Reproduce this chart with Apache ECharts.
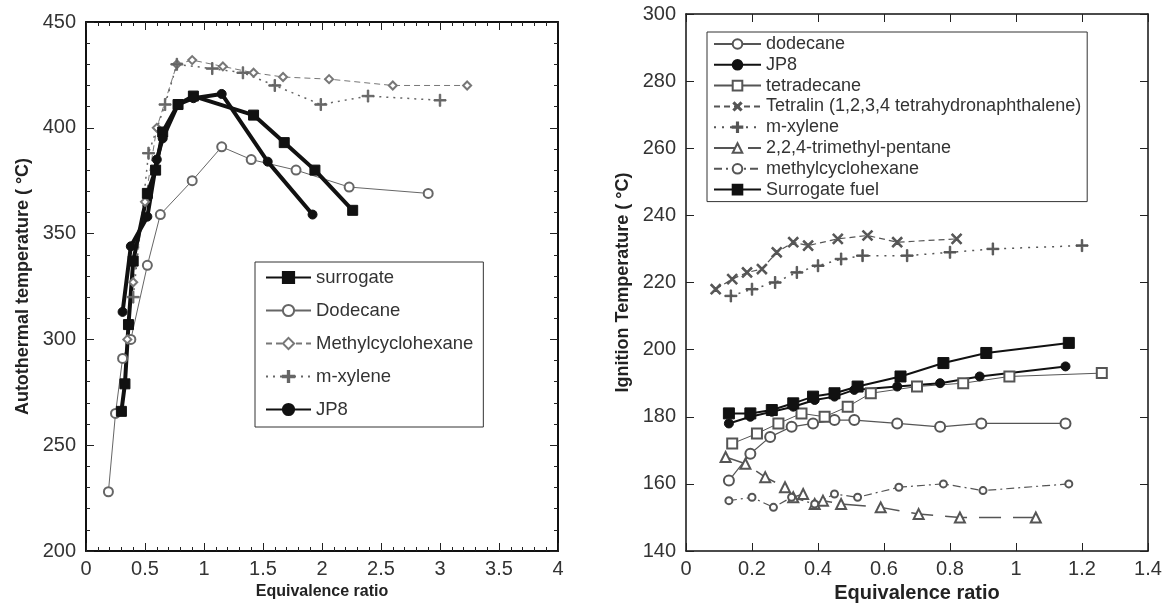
<!DOCTYPE html>
<html>
<head>
<meta charset="utf-8">
<title>Autothermal and ignition temperature</title>
<script src="https://cdn.jsdelivr.net/npm/echarts@6/dist/echarts.min.js"></script>
<style>
html, body { margin: 0; padding: 0; background: #fff; }
#main { width: 1169px; height: 610px; }
</style>
</head>
<body>
<div id="main"></div>
<script>
// ---------------- left panel data: autothermal temperature ----------------
var surrogateL = [[0.30,266],[0.33,279],[0.36,307],[0.40,337],[0.52,369],[0.59,380],[0.65,398],[0.78,411],[0.91,415],[1.42,406],[1.68,393],[1.94,380],[2.26,361]];
var dodecaneL = [[0.19,228],[0.25,265],[0.31,291],[0.38,300],[0.52,335],[0.63,359],[0.90,375],[1.15,391],[1.40,385],[1.78,380],[2.23,372],[2.90,369]];
var mchL = [[0.35,300],[0.40,327],[0.50,365],[0.60,400],[0.77,430],[0.90,432],[1.16,429],[1.42,426],[1.67,424],[2.06,423],[2.60,420],[3.23,420]];
var xyleneL = [[0.40,320],[0.53,388],[0.67,411],[0.77,430],[1.07,428],[1.33,426],[1.60,420],[1.99,411],[2.39,415],[3.00,413]];
var jp8L = [[0.31,313],[0.38,344],[0.52,358],[0.60,385],[0.65,395],[0.78,411],[0.91,414],[1.15,416],[1.54,384],[1.92,359]];

// ---------------- right panel data: ignition temperature ----------------
var dodecaneR = [[0.13,161],[0.195,169],[0.255,174],[0.32,177],[0.385,178],[0.45,179],[0.51,179],[0.64,178],[0.77,177],[0.895,178],[1.15,178]];
var jp8R = [[0.13,178],[0.195,180],[0.26,181.5],[0.325,183],[0.39,185],[0.45,186],[0.51,188],[0.64,189],[0.77,190],[0.89,192],[1.15,195]];
var tetradecaneR = [[0.14,172],[0.215,175],[0.28,178],[0.35,181],[0.42,180],[0.49,183],[0.56,187],[0.70,189],[0.84,190],[0.98,192],[1.26,193]];
var tetralinR = [[0.09,218],[0.14,221],[0.185,223],[0.23,224],[0.275,229],[0.325,232],[0.37,231],[0.46,233],[0.55,234],[0.64,232],[0.82,233]];
var xyleneR = [[0.136,216],[0.20,218],[0.27,220],[0.336,223],[0.40,225],[0.47,227],[0.535,228],[0.67,228],[0.80,229],[0.93,230],[1.20,231]];
var pentaneR = [[0.12,168],[0.18,166],[0.24,162],[0.30,159],[0.325,156],[0.355,157],[0.39,154],[0.415,155],[0.47,154],[0.59,153],[0.705,151],[0.83,150],[1.06,150]];
var mchR = [[0.13,155],[0.20,156],[0.265,153],[0.32,156],[0.39,154],[0.45,157],[0.52,156],[0.645,159],[0.78,160],[0.90,158],[1.16,160]];
var surrogateR = [[0.13,181],[0.195,181],[0.26,182],[0.325,184],[0.385,186],[0.45,187],[0.52,189],[0.65,192],[0.78,196],[0.91,199],[1.16,202]];

var legendLeft = ['surrogate', 'Dodecane', 'Methylcyclohexane', 'm-xylene', 'JP8'];
var legendRight = ['dodecane', 'r:JP8', 'tetradecane', 'Tetralin (1,2,3,4 tetrahydronaphthalene)', 'r:m-xylene', '2,2,4-trimethyl-pentane', 'methylcyclohexane', 'Surrogate fuel'];

var FONT = "'Liberation Sans', Arial, sans-serif";
// thin plus sign, rotated 45 deg it gives the x marker
var PLUS = 'path://M4.4,0h1.2v4.4h4.4v1.2h-4.4v4.4h-1.2v-4.4h-4.4v-1.2h4.4z';

// 坐标轴 (frame axes carry only ticks)
function xAx(grid, pos, min, max, step, minor, lw, showLabel, name, nameSize, gap) {
    return {
        type: 'value', gridIndex: grid, position: pos, min: min, max: max, interval: step,
        name: name || '', nameLocation: 'middle', nameGap: gap || 30,
        nameTextStyle: { fontFamily: FONT, fontWeight: 'bold', fontSize: nameSize || 16, color: '#222' },
        axisLine: { show: true, onZero: false, lineStyle: { color: '#111', width: lw } },
        axisTick: { show: true, inside: true, length: 8, lineStyle: { color: '#222', width: 1 } },
        minorTick: { show: minor, splitNumber: 5, length: 4, lineStyle: { color: '#222' } },
        axisLabel: { show: showLabel, fontFamily: FONT, fontSize: 20, color: '#333', margin: 8 },
        splitLine: { show: false }
    };
}
function yAx(grid, pos, min, max, step, minor, lw, showLabel, name, gap) {
    return {
        type: 'value', gridIndex: grid, position: pos, min: min, max: max, interval: step,
        name: name || '', nameLocation: 'middle', nameGap: gap || 50,
        nameTextStyle: { fontFamily: FONT, fontWeight: 'bold', fontSize: 18, color: '#222' },
        axisLine: { show: true, onZero: false, lineStyle: { color: '#111', width: lw } },
        axisTick: { show: true, inside: true, length: 8, lineStyle: { color: '#222', width: 1 } },
        minorTick: { show: minor, splitNumber: 5, length: 4, lineStyle: { color: '#222' } },
        axisLabel: { show: showLabel, fontFamily: FONT, fontSize: 20, color: '#333', margin: 10 },
        splitLine: { show: false }
    };
}

function line(name, data, xi, symbol, size, color, width, dash, extra) {
    var s = {
        name: name, type: 'line', xAxisIndex: xi, yAxisIndex: xi, data: data,
        symbol: symbol, symbolSize: size,
        lineStyle: { color: color, width: width, type: dash },
        itemStyle: { color: color, borderColor: color, borderWidth: 1 },
        z: 3
    };
    if (extra) { for (var k in extra) s[k] = extra[k]; }
    return s;
}

var chart = echarts.init(document.getElementById('main'));
chart.setOption({
    animation: false,
    backgroundColor: '#fff',
    grid: [
        { left: 86, top: 22, width: 472, height: 529 },
        { left: 686, top: 14, width: 462, height: 537 }
    ],
    xAxis: [
        xAx(0, 'bottom', 0, 4, 0.5, true, 2, true, 'Equivalence ratio', 16, 25),
        xAx(0, 'top', 0, 4, 0.5, true, 2, false),
        xAx(1, 'bottom', 0, 1.4, 0.2, false, 1.5, true, 'Equivalence ratio', 20, 30),
        xAx(1, 'top', 0, 1.4, 0.2, false, 1.5, false)
    ],
    yAxis: [
        yAx(0, 'left', 200, 450, 50, true, 2, true, 'Autothermal temperature ( °C)', 54),
        yAx(0, 'right', 200, 450, 50, true, 2, false),
        yAx(1, 'left', 140, 300, 20, false, 1.5, true, 'Ignition Temperature ( °C)', 54),
        yAx(1, 'right', 140, 300, 20, false, 1.5, false)
    ],
    legend: [
        {
            data: legendLeft, orient: 'vertical', left: 255, top: 262,
            itemWidth: 45, itemHeight: 14, itemGap: 14,
            padding: [6, 10, 8, 10],
            borderColor: '#333', borderWidth: 1, backgroundColor: '#fff',
            textStyle: { fontFamily: FONT, fontSize: 18.5, color: '#333' },
            selectedMode: false
        },
        {
            data: legendRight, orient: 'vertical', left: 707, top: 32,
            itemWidth: 47, itemHeight: 12, itemGap: 2.8,
            padding: [3, 6, 3, 6],
            borderColor: '#333', borderWidth: 1, backgroundColor: '#fff',
            textStyle: { fontFamily: FONT, fontSize: 18, color: '#333' },
            formatter: function (n) { return n.replace('r:', ''); },
            selectedMode: false
        }
    ],
    series: [
        line('Dodecane', dodecaneL, 0, 'emptyCircle', 9, '#666', 1, 'solid'),
        line('Methylcyclohexane', mchL, 0, 'emptyDiamond', 8, '#777', 1, [6, 4]),
        line('m-xylene', xyleneL, 0, PLUS, 12, '#666', 1.5, [2, 5]),
        line('surrogate', surrogateL, 0, 'rect', 10, '#111', 4, 'solid'),
        line('JP8', jp8L, 0, 'circle', 9, '#111', 4, 'solid'),

        line('dodecane', dodecaneR, 2, 'emptyCircle', 10, '#555', 1.2, 'solid'),
        line('tetradecane', tetradecaneR, 2, 'emptyRect', 10, '#555', 1, 'solid'),
        line('Tetralin (1,2,3,4 tetrahydronaphthalene)', tetralinR, 2, PLUS, 13, '#555', 1.2, [6, 4], { symbolRotate: 45 }),
        line('r:m-xylene', xyleneR, 2, PLUS, 12, '#555', 1.5, [2, 6]),
        line('2,2,4-trimethyl-pentane', pentaneR, 2, 'emptyTriangle', 10, '#555', 1.5, [22, 12]),
        line('methylcyclohexane', mchR, 2, 'emptyCircle', 7, '#555', 1.2, [8, 4, 2, 4]),
        line('r:JP8', jp8R, 2, 'circle', 9, '#111', 2, 'solid'),
        line('Surrogate fuel', surrogateR, 2, 'rect', 11, '#111', 2, 'solid')
    ]
});
</script>
</body>
</html>
